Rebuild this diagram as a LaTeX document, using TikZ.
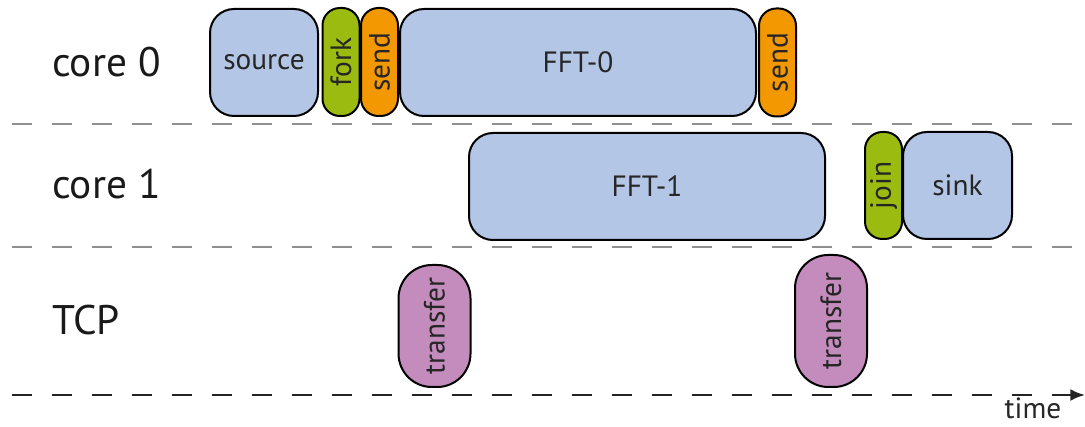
\documentclass[tikz,border=0pt]{standalone}
\usepackage{fontspec}
\setmainfont{PT Sans}
\usepackage{graphicx}
\usetikzlibrary{arrows.meta}
\definecolor{cblue}{HTML}{B4C6E6}
\definecolor{cgreen}{HTML}{9BBB10}
\definecolor{corange}{HTML}{F39800}
\definecolor{cpurple}{HTML}{C48CBC}
\definecolor{cgray}{HTML}{8F8F8F}
\definecolor{caxis}{HTML}{222222}
\begin{document}
\begin{tikzpicture}[x=0.75pt,y=-0.75pt,
  box/.style={draw=black, line width=1.5pt, inner sep=0pt, text=black!85,
    font=\fontsize{22}{26}\selectfont},
  bigbox/.style={box, fill=cblue, rounded corners=18pt, minimum height=80.25pt},
  slim/.style={box, rounded corners=13pt, minimum width=27.75pt, minimum height=81pt},
  tbox/.style={box, fill=cpurple, rounded corners=25pt, minimum width=54pt},
  lane/.style={anchor=base west, inner sep=0pt, text=black!90, font=\fontsize{31}{36}\selectfont},
  sep/.style={draw=cgray, line width=1.5pt, dash pattern=on 15pt off 15pt},
  axis/.style={draw=caxis, line width=1.8pt, dash pattern=on 15pt off 15pt}]
\useasboundingbox (0,0) rectangle (1085,427);
% lane labels
\node[lane] (l0) at (52,77) {core 0};
\node[lane] (l1) at (52,199) {core 1};
\node[lane] (l2) at (52,335) {TCP};
% separators
\coordinate (s1a) at (12,124.5); \coordinate (s1b) at (1074,124.5);
\coordinate (s2a) at (12,247); \coordinate (s2b) at (1074,247);
\draw[sep] (s1a) -- (s1b);
\draw[sep] (s2a) -- (s2b);
% time axis
\coordinate (ta) at (12,395); \coordinate (tb) at (1074,395);
\coordinate (tc) at (1052,395); \coordinate (td) at (1085,395);
\draw[axis] (ta) -- (tb);
\draw[draw=caxis, line width=1.8pt, -{Latex[length=11pt,width=9pt]}] (tc) -- (td);
\node[anchor=base, inner sep=0pt, text=black!85, font=\fontsize{22}{26}\selectfont] (time) at (1033,419) {time};
% core 0
\node[bigbox, minimum width=81pt] (source) at (264,62.5) {source};
\node[slim, fill=cgreen] (fork) at (341,62) {\rotatebox{90}{fork}};
\node[slim, fill=corange] (send) at (379.5,62) {\rotatebox{90}{send}};
\node[bigbox, minimum width=267pt] (fft0) at (578,62.5) {FFT-0};
\node[slim, fill=corange] (send2) at (777.5,62.5) {\rotatebox{90}{send}};
% core 1
\node[bigbox, minimum width=267pt] (fft1) at (647,186.5) {FFT-1};
\node[slim, fill=cgreen, minimum height=80.25pt] (join) at (883.5,185.5) {\rotatebox{90}{join}};
\node[bigbox, minimum width=81.75pt] (sink) at (957.5,185.5) {sink};
% TCP
\node[tbox, minimum height=91.5pt] (tr1) at (434.5,326) {\rotatebox{90}{transfer}};
\node[tbox, minimum height=99pt] (tr2) at (831,321) {\rotatebox{90}{transfer}};
\end{tikzpicture}
\end{document}
